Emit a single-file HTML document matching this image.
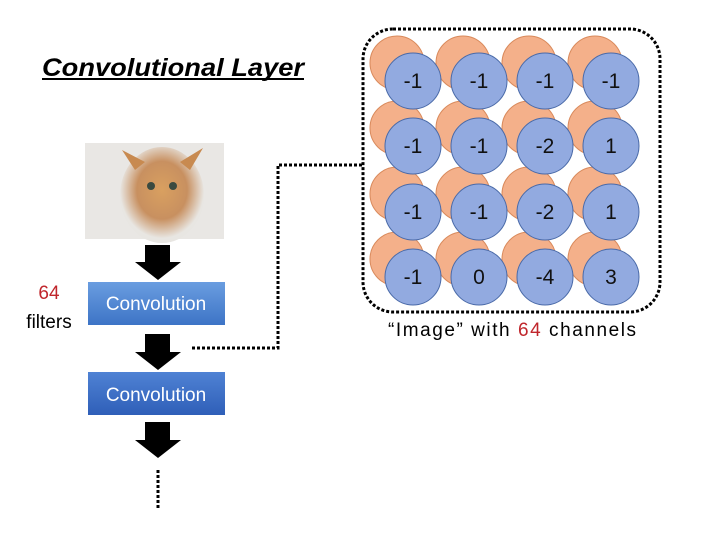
<!DOCTYPE html>
<html><head><style>
body{margin:0;background:#fff;}
</style></head><body>
<svg width="720" height="540" xmlns="http://www.w3.org/2000/svg" font-family="Liberation Sans, sans-serif">
<defs>
<linearGradient id="cb" x1="0" y1="0" x2="0" y2="1"><stop offset="0" stop-color="#6a9de0"/><stop offset="1" stop-color="#3d74c6"/></linearGradient>
<linearGradient id="cb2" x1="0" y1="0" x2="0" y2="1"><stop offset="0" stop-color="#4f82d4"/><stop offset="1" stop-color="#2f5fb8"/></linearGradient>
<radialGradient id="cat" cx="0.5" cy="0.45" r="0.5"><stop offset="0" stop-color="#d9a060"/><stop offset="0.6" stop-color="#c89060"/><stop offset="1" stop-color="#e8e6e2"/></radialGradient>
</defs>
<text x="42" y="76" font-size="25" font-weight="bold" font-style="italic" textLength="262" lengthAdjust="spacingAndGlyphs">Convolutional Layer</text>
<line x1="42" y1="79" x2="304" y2="79" stroke="#000" stroke-width="2"/>
<!-- cat -->
<rect x="85" y="143" width="139" height="96" fill="#e9e7e4"/>
<ellipse cx="162" cy="195" rx="42" ry="48" fill="url(#cat)"/>
<polygon points="122,150 135,170 145,162" fill="#c88a50"/>
<polygon points="203,148 190,170 180,162" fill="#c88a50"/>
<circle cx="151" cy="186" r="4" fill="#3a4a40"/><circle cx="173" cy="186" r="4" fill="#3a4a40"/>
<!-- arrows -->
<g fill="#000">
<polygon points="145,245 170,245 170,262 181,262 158,280 135,262 145,262"/>
<polygon points="145,334 170,334 170,352 181,352 158,370 135,352 145,352"/>
<polygon points="145,422 170,422 170,440 181,440 158,458 135,440 145,440"/>
</g>
<line x1="158" y1="470" x2="158" y2="508" stroke="#000" stroke-width="3" stroke-dasharray="3,2"/>
<rect x="88" y="282" width="137" height="43" fill="url(#cb)"/>
<text x="156" y="310" font-size="19" fill="#fff" text-anchor="middle">Convolution</text>
<rect x="88" y="372" width="137" height="43" fill="url(#cb2)"/>
<text x="156" y="401" font-size="19" fill="#fff" text-anchor="middle">Convolution</text>
<text x="49" y="299" font-size="19" fill="#c0262c" text-anchor="middle">64</text>
<text x="49" y="328" font-size="19" text-anchor="middle">filters</text>
<!-- connector -->
<polyline points="192,348 278,348 278,165 362,165" fill="none" stroke="#000" stroke-width="3" stroke-dasharray="3,2"/>
<!-- grid box -->
<rect x="363" y="29" width="297" height="283" rx="30" fill="none" stroke="#000" stroke-width="3" stroke-dasharray="3,2"/>
<g stroke="#d98a5c" stroke-width="1" fill="#f4b08a">
<circle cx="397" cy="63" r="27"/><circle cx="463" cy="63" r="27"/><circle cx="529" cy="63" r="27"/><circle cx="595" cy="63" r="27"/>
<circle cx="397" cy="128" r="27"/><circle cx="463" cy="128" r="27"/><circle cx="529" cy="128" r="27"/><circle cx="595" cy="128" r="27"/>
<circle cx="397" cy="194" r="27"/><circle cx="463" cy="194" r="27"/><circle cx="529" cy="194" r="27"/><circle cx="595" cy="194" r="27"/>
<circle cx="397" cy="259" r="27"/><circle cx="463" cy="259" r="27"/><circle cx="529" cy="259" r="27"/><circle cx="595" cy="259" r="27"/>
</g>
<g stroke="#4a6aa8" stroke-width="1" fill="#92aae0">
<circle cx="413" cy="81" r="28"/><circle cx="479" cy="81" r="28"/><circle cx="545" cy="81" r="28"/><circle cx="611" cy="81" r="28"/>
<circle cx="413" cy="146" r="28"/><circle cx="479" cy="146" r="28"/><circle cx="545" cy="146" r="28"/><circle cx="611" cy="146" r="28"/>
<circle cx="413" cy="212" r="28"/><circle cx="479" cy="212" r="28"/><circle cx="545" cy="212" r="28"/><circle cx="611" cy="212" r="28"/>
<circle cx="413" cy="277" r="28"/><circle cx="479" cy="277" r="28"/><circle cx="545" cy="277" r="28"/><circle cx="611" cy="277" r="28"/>
</g>
<g font-size="21" text-anchor="middle" fill="#111">
<text x="413" y="88">-1</text><text x="479" y="88">-1</text><text x="545" y="88">-1</text><text x="611" y="88">-1</text>
<text x="413" y="153">-1</text><text x="479" y="153">-1</text><text x="545" y="153">-2</text><text x="611" y="153">1</text>
<text x="413" y="219">-1</text><text x="479" y="219">-1</text><text x="545" y="219">-2</text><text x="611" y="219">1</text>
<text x="413" y="284">-1</text><text x="479" y="284">0</text><text x="545" y="284">-4</text><text x="611" y="284">3</text>
</g>
<text x="388" y="336" font-size="19" textLength="248" lengthAdjust="spacing">“Image” with <tspan fill="#c0262c">64</tspan> channels</text>
</svg>
</body></html>
